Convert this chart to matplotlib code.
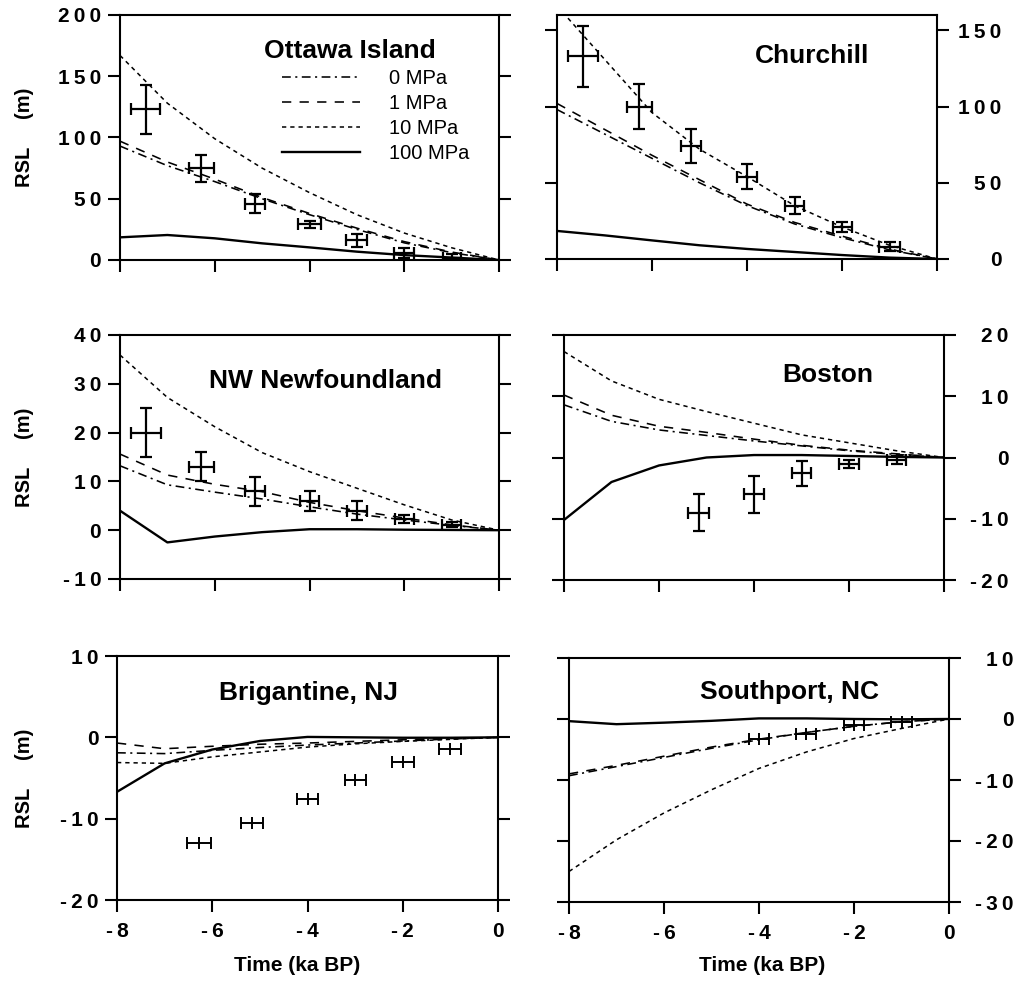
import matplotlib
matplotlib.use("Agg")
import matplotlib.pyplot as plt
from matplotlib.ticker import FuncFormatter

plt.rcParams['font.family'] = ['Liberation Sans', 'DejaVu Sans']

# --- model output, RSL (m) at each ka BP ---
t_model = [-8, -7, -6, -5, -4, -3, -2, -1, 0]

ottawa_0 = [93, 77, 64, 50, 37, 25, 14, 6, 0]
ottawa_1 = [97, 80, 66, 51, 38, 26, 15, 6.5, 0]
ottawa_10 = [167, 128, 99, 75, 55, 37, 22, 10, 0]
ottawa_100 = [18.5, 20.4, 17.7, 13.6, 10.3, 6.8, 4, 2, 0]

churchill_0 = [98, 82, 66, 50, 35, 23, 14, 6, 0]
churchill_1 = [102, 85, 68, 52, 36, 24, 15, 6.5, 0]
churchill_10 = [166, 131, 96, 72, 54, 35, 21, 9, 0]
churchill_100 = [18.4, 15.5, 12.2, 9, 6.6, 4.6, 2.6, 0.9, 0]

newf_0 = [13.2, 9.3, 7.8, 6.4, 4.8, 3.3, 2.1, 1, 0]
newf_1 = [15.6, 11.3, 9.4, 7.9, 5.7, 4, 2.5, 1.1, 0]
newf_10 = [35.9, 27.2, 21.2, 15.9, 12, 8.6, 5.2, 2.1, 0]
newf_100 = [4.0, -2.5, -1.3, -0.4, 0.2, 0.2, 0.1, 0.05, 0]

boston_0 = [8.6, 5.9, 4.5, 3.6, 2.7, 1.9, 1.1, 0.5, 0]
boston_1 = [10.2, 6.9, 5.1, 4.1, 3.0, 2.0, 1.2, 0.6, 0]
boston_10 = [17.3, 12.5, 9.5, 7.5, 5.6, 3.7, 2.4, 1.1, 0]
boston_100 = [-10.2, -4.0, -1.3, 0, 0.4, 0.4, 0.25, 0.1, 0]

brig_0 = [-1.9, -2.0, -1.6, -1.25, -0.95, -0.7, -0.45, -0.2, 0]
brig_1 = [-0.7, -1.4, -1.1, -0.85, -0.7, -0.5, -0.3, -0.15, 0]
brig_10 = [-3.1, -3.2, -2.4, -1.8, -1.2, -0.8, -0.5, -0.25, 0]
brig_100 = [-6.7, -3.2, -1.5, -0.45, 0.05, 0, -0.05, -0.05, 0]

south_0 = [-9.3, -7.8, -6.3, -4.8, -3.4, -2.2, -1.2, -0.45, 0]
south_1 = [-9.0, -7.6, -6.1, -4.6, -3.3, -2.2, -1.2, -0.45, 0]
south_10 = [-25.0, -19.8, -15.4, -11.6, -8.1, -5.4, -3.2, -1.55, 0]
south_100 = [-0.35, -0.85, -0.6, -0.3, 0.1, 0.1, 0, -0.05, 0]

# --- observed sea-level indicators ---
ottawa_obs_t = [-7.46, -6.28, -5.15, -4.0, -3.0, -2.0, -1.0]
ottawa_obs_rsl = [123, 75, 46, 29, 16, 5.5, 2]
ottawa_obs_terr = [0.31, 0.27, 0.22, 0.24, 0.22, 0.21, 0.19]
ottawa_obs_rerr = [20, 11, 7.5, 3, 5, 4, 3]

churchill_obs_t = [-7.45, -6.27, -5.17, -4.0, -3.0, -2.0, -1.0]
churchill_obs_rsl = [133, 100, 74, 54, 35, 21, 8]
churchill_obs_terr = [0.32, 0.26, 0.21, 0.21, 0.2, 0.2, 0.23]
churchill_obs_rerr = [20, 15, 11, 8, 5.4, 3.5, 3]

newf_obs_t = [-7.45, -6.28, -5.15, -4.0, -3.0, -2.0, -1.0]
newf_obs_rsl = [20, 13, 8, 6, 4, 2.3, 1.1]
newf_obs_terr = [0.31, 0.27, 0.22, 0.21, 0.21, 0.2, 0.2]
newf_obs_rerr = [5, 3, 3, 2, 2, 0.8, 0.5]

boston_obs_t = [-5.16, -4.0, -3.0, -2.0, -1.0]
boston_obs_rsl = [-9, -6, -2.6, -1.05, -0.4]
boston_obs_terr = [0.22, 0.21, 0.21, 0.21, 0.21]
boston_obs_rerr = [3, 3, 2, 0.7, 0.7]

brig_obs_t = [-6.28, -5.16, -4.0, -3.0, -2.0, -1.0]
brig_obs_rsl = [-13.0, -10.5, -7.6, -5.2, -3.05, -1.45]
brig_obs_terr = [0.26, 0.23, 0.23, 0.22, 0.23, 0.23]

south_obs_t = [-4.0, -3.01, -2.0, -1.0]
south_obs_rsl = [-3.35, -2.4, -1.05, -0.45]
south_obs_terr = [0.22, 0.22, 0.21, 0.22]

legend_labels = ["0 MPa", "1 MPa", "10 MPa", "100 MPa"]

W, H = 1019, 984
fig = plt.figure(figsize=(W / 100, H / 100), dpi=100)

def make_axes(left, top, right, bottom):
    return fig.add_axes([left / W, 1 - bottom / H, (right - left) / W, (bottom - top) / H])

def spaced(v, pos):
    return "\u2009".join(str(int(round(v))))

dashdot = (0, (5.5, 2.8, 1.3, 2.8))
dashed = (0, (5.8, 5.2))
dotted = (0, (2.8, 2.6))

panels = [
    # name, box (px), ylim, yticks, curves, obs, label side, title pos
    ("Ottawa Island", (120, 15, 499, 260), (0, 200), range(0, 201, 50),
     (ottawa_0, ottawa_1, ottawa_10, ottawa_100),
     (ottawa_obs_t, ottawa_obs_rsl, ottawa_obs_terr, ottawa_obs_rerr), "left", (0.607, 0.824)),
    ("Churchill", (557, 15, 937, 259), (0, 160), range(0, 151, 50),
     (churchill_0, churchill_1, churchill_10, churchill_100),
     (churchill_obs_t, churchill_obs_rsl, churchill_obs_terr, churchill_obs_rerr), "right", (0.671, 0.803)),
    ("NW Newfoundland", (120, 335, 499, 579), (-10, 40), range(-10, 41, 10),
     (newf_0, newf_1, newf_10, newf_100),
     (newf_obs_t, newf_obs_rsl, newf_obs_terr, newf_obs_rerr), "left", (0.541, 0.783)),
    ("Boston", (564, 335, 944, 580), (-20, 20), range(-20, 21, 10),
     (boston_0, boston_1, boston_10, boston_100),
     (boston_obs_t, boston_obs_rsl, boston_obs_terr, boston_obs_rerr), "right", (0.695, 0.808)),
    ("Brigantine, NJ", (117, 656, 498, 900), (-20, 10), range(-20, 11, 10),
     (brig_0, brig_1, brig_10, brig_100),
     (brig_obs_t, brig_obs_rsl, brig_obs_terr, None), "left", (0.502, 0.82)),
    ("Southport, NC", (569, 658, 949, 902), (-30, 10), range(-30, 11, 10),
     (south_0, south_1, south_10, south_100),
     (south_obs_t, south_obs_rsl, south_obs_terr, None), "right", (0.579, 0.832)),
]

for i, (name, box, ylim, yticks, curves, obs, side, tpos) in enumerate(panels):
    ax = make_axes(*box)
    c0, c1, c10, c100 = curves
    ax.plot(t_model, c0, color="k", lw=1.15, ls=dashdot, label=legend_labels[0])
    ax.plot(t_model, c1, color="k", lw=1.15, ls=dashed, label=legend_labels[1])
    ax.plot(t_model, c10, color="k", lw=1.1, ls=dotted, label=legend_labels[2])
    ax.plot(t_model, c100, color="k", lw=1.7, ls="-", label=legend_labels[3])

    ot, orsl, oterr, orerr = obs
    if orerr is not None:
        ax.errorbar(ot, orsl, xerr=oterr, yerr=orerr, fmt="none", ecolor="k",
                    elinewidth=1.6, capsize=4.3, capthick=1.6)
    else:
        ax.errorbar(ot, orsl, xerr=oterr, fmt="|", color="k", ms=9, mew=1.4,
                    elinewidth=1.4, capsize=4.5, capthick=1.4)

    ax.set_xlim(-8, 0)
    ax.set_ylim(*ylim)
    ax.set_xticks(range(-8, 1, 2))
    ax.set_yticks(list(yticks))
    ax.xaxis.set_major_formatter(FuncFormatter(spaced))
    ax.yaxis.set_major_formatter(FuncFormatter(spaced))
    for s in ax.spines.values():
        s.set_linewidth(1.5)
    ax.tick_params(direction="out", length=8.5, width=1.5, labelsize=15)
    ax.tick_params(axis="x", pad=7, labelbottom=(i >= 4))
    if side == "left":
        ax.tick_params(axis="y", left=True, right=True, labelleft=True, labelright=False, pad=5)
        ax.set_ylabel("RSL     (m)", fontsize=14.5, fontweight="bold")
        ax.yaxis.set_label_coords((34 - box[0]) / (box[2] - box[0]), 0.5)
    else:
        ax.tick_params(axis="y", left=True, right=True, labelleft=False, labelright=True, pad=38)
    for lab in ax.get_xticklabels() + ax.get_yticklabels():
        lab.set_fontweight("bold")
        if side == "right" and lab in ax.get_yticklabels():
            lab.set_horizontalalignment("right")

    ax.text(tpos[0], tpos[1], name, transform=ax.transAxes, ha="center", va="baseline",
            fontsize=19, fontweight="bold")

    if i >= 4:
        ax.set_xlabel("Time (ka BP)", fontsize=15, fontweight="bold")
        if side == "left":
            ax.xaxis.set_label_coords(0.472, -0.23)
        else:
            ax.xaxis.set_label_coords(0.508, -0.221)

    if i == 0:
        ax.legend(loc="upper left", bbox_to_anchor=(0.427, 0.78), frameon=False,
                  fontsize=14.5, handlelength=3.9, handletextpad=1.4, labelspacing=0.3,
                  borderpad=0, borderaxespad=0)

fig.savefig("out.png", dpi=100)
